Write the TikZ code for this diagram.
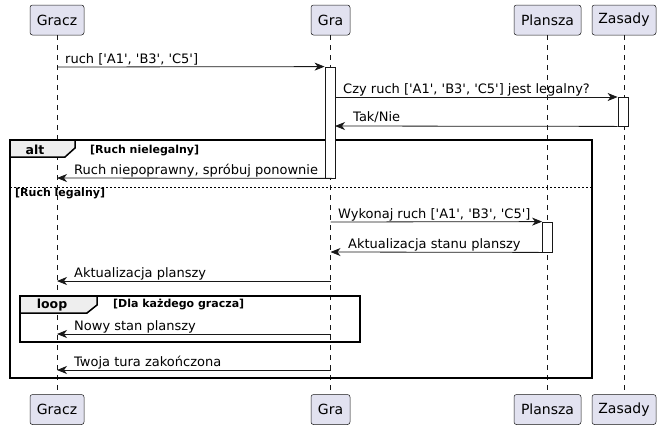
\documentclass[tikz,border=0pt]{standalone}
\usepackage{fontspec}
\setmainfont{DejaVu Sans}
\setmonofont{DejaVu Sans}
\usetikzlibrary{arrows.meta}
\definecolor{lc}{HTML}{181818}
\definecolor{pfill}{HTML}{E2E2F0}
\definecolor{tabfill}{HTML}{EEEEEE}
\tikzset{
  part/.style={draw=lc, fill=pfill, rounded corners=2.5pt, line width=0.5pt,
    minimum height=30pt, inner sep=0pt, font=\fontsize{14}{16}\selectfont, text=black},
  lifeline/.style={draw=lc, line width=0.5pt, dash pattern=on 5pt off 5pt},
  act/.style={draw=lc, fill=white, line width=0.8pt, minimum width=10pt, inner sep=0pt},
  msg/.style={draw=lc, line width=0.8pt, -{Stealth[length=10pt,width=8pt,inset=3pt]}},
  msgtext/.style={anchor=base west, inner sep=0pt, font=\ttfamily\fontsize{13}{15}\selectfont, text=black},
  frame/.style={draw=black, line width=1.5pt},
  tab/.style={draw=black, fill=tabfill, line width=1.5pt},
  tabtext/.style={anchor=base, inner sep=0pt, font=\bfseries\fontsize{12.5}{14}\selectfont},
  cond/.style={anchor=base west, inner sep=0pt, font=\bfseries\fontsize{11}{13}\selectfont},
  sep/.style={draw=black, line width=0.8pt, dash pattern=on 2pt off 2pt}
}
\begin{document}
\begin{tikzpicture}[x=1pt,y=-1pt]
\useasboundingbox (0,0) rectangle (661,429);
% participants
\node[part, minimum width=54pt] (graczT) at (57,20) {Gracz};
\node[part, minimum width=39pt] (graT) at (330.5,20) {Gra};
\node[part, minimum width=67pt] (planszaT) at (547.5,20) {Plansza};
\node[part, minimum width=64pt] (zasadyT) at (624,20) {Zasady};
\node[part, minimum width=54pt] (graczB) at (57,409.5) {Gracz};
\node[part, minimum width=39pt] (graB) at (330.5,409.5) {Gra};
\node[part, minimum width=67pt] (planszaB) at (547.5,409.5) {Plansza};
\node[part, minimum width=64pt] (zasadyB) at (624,409.5) {Zasady};
% lifelines
\draw[lifeline] (graczT.south) -- (graczB.north);
\draw[lifeline] (graT.south) -- (graB.north);
\draw[lifeline] (planszaT.south) -- (planszaB.north);
\draw[lifeline] (zasadyT.south) -- (zasadyB.north);
% alt frame
\draw[frame] (10,140) rectangle (592,378);
\draw[tab] (10,140) -- (75,140) -- (75,148) -- (65,157) -- (10,157) -- cycle;
\node[tabtext] (altlbl) at (35,154) {alt};
\node[cond] (c1) at (90,153) {[Ruch nielegalny]};
\draw[sep] (10,187) -- (592,187);
\node[cond] (c2) at (15,196.5) {[Ruch legalny]};
% loop frame
\draw[frame] (20,296) rectangle (360,342);
\draw[tab] (20,296) -- (97,296) -- (97,305) -- (87,313) -- (20,313) -- cycle;
\node[tabtext] (looplbl) at (52,308.5) {loop};
\node[cond] (c3) at (113,307) {[Dla każdego gracza]};
% activations
\node[act, minimum height=111pt] (gact) at (330,122.5) {};
\node[act, minimum height=29pt] (zact) at (623,111.5) {};
\node[act, minimum height=30pt] (pact) at (547.5,237) {};
% endpoints
\coordinate (g1) at (57,67);
\coordinate (r2) at (335,97);
\coordinate (r3) at (335,126);
\coordinate (g4) at (57,178);
\coordinate (r5) at (330.5,222);
\coordinate (r6) at (330.5,252);
\coordinate (s7) at (330.5,281);
\coordinate (g7) at (57,281);
\coordinate (s8) at (330.5,334);
\coordinate (g8) at (57,334);
\coordinate (s9) at (330.5,370);
\coordinate (g9) at (57,370);
% messages
\draw[msg] (g1) -- (gact.north west);
\node[msgtext] (t1) at (65,63) {ruch ['A1', 'B3', 'C5']};
\draw[msg] (r2) -- (zact.north west |- r2);
\node[msgtext] (t2) at (343,93) {Czy ruch ['A1', 'B3', 'C5'] jest legalny?};
\draw[msg] (zact.south west) -- (r3);
\node[msgtext] (t3) at (353,121.5) {Tak/Nie};
\draw[msg] (gact.south east) -- (g4);
\node[msgtext] (t4) at (74,174) {Ruch niepoprawny, spróbuj ponownie};
\draw[msg] (r5) -- (pact.north west);
\node[msgtext] (t5) at (338,218) {Wykonaj ruch ['A1', 'B3', 'C5']};
\draw[msg] (pact.south west) -- (r6);
\node[msgtext] (t6) at (348,248) {Aktualizacja stanu planszy};
\draw[msg] (s7) -- (g7);
\node[msgtext] (t7) at (74,277) {Aktualizacja planszy};
\draw[msg] (s8) -- (g8);
\node[msgtext] (t8) at (74,330) {Nowy stan planszy};
\draw[msg] (s9) -- (g9);
\node[msgtext] (t9) at (74,366) {Twoja tura zakończona};
\end{tikzpicture}
\end{document}
